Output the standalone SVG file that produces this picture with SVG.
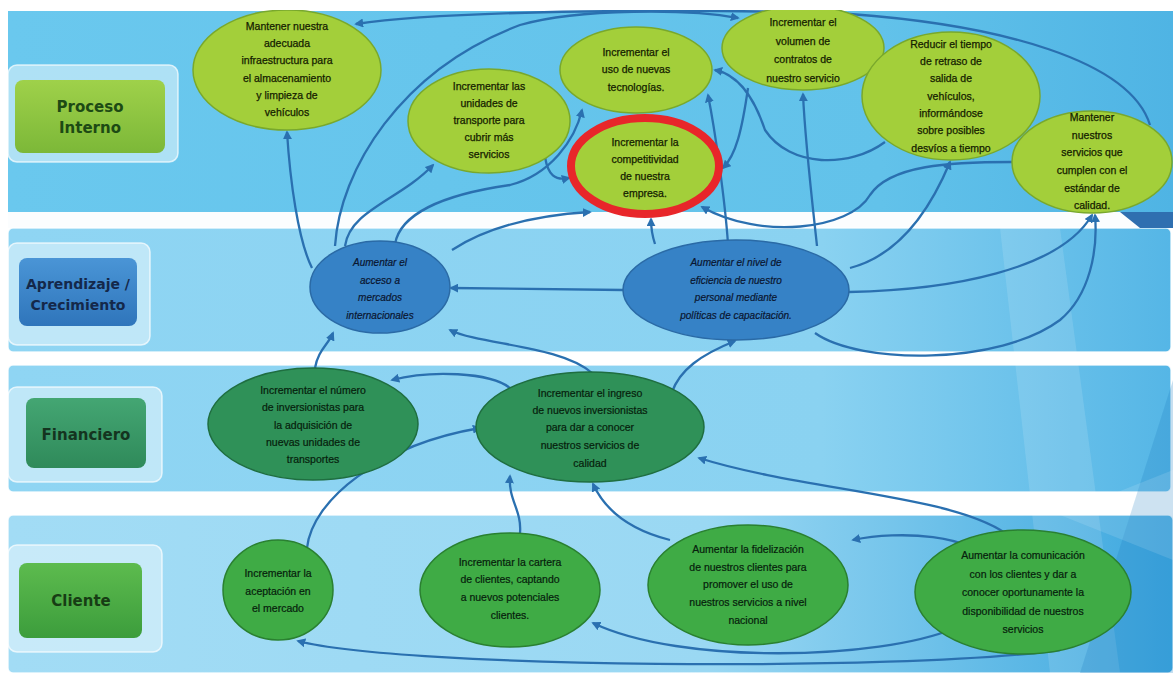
<svg xmlns="http://www.w3.org/2000/svg" width="1173" height="673" viewBox="0 0 1173 673">
<style>
.t{font-family:"Liberation Sans",Arial,sans-serif;font-size:10.5px;fill:#142000;stroke:#142000;stroke-width:0.25;text-anchor:middle}
.tb{font-family:"Liberation Sans",Arial,sans-serif;font-size:10px;fill:#0a1630;stroke:#0a1630;stroke-width:0.2;text-anchor:middle;font-style:italic}
.tg{font-family:"Liberation Sans",Arial,sans-serif;font-size:10.5px;fill:#06200c;stroke:#06200c;stroke-width:0.2;text-anchor:middle}
.lab{font-family:"DejaVu Sans",Verdana,sans-serif;font-size:15px;font-weight:bold;text-anchor:middle}
.yg{fill:#a3cf3a;stroke:#79a82c;stroke-width:1.5}
.bl{fill:#3682c6;stroke:#2a6aa6;stroke-width:1.5}
.dg{fill:#2f9158;stroke:#1f6e40;stroke-width:1.5}
.gr{fill:#3fab45;stroke:#2a8030;stroke-width:1.5}
.c{fill:none;stroke:#2a70b0;stroke-width:2.3;marker-end:url(#ah)}
.outer{fill:#e8f6fc;fill-opacity:0.55;stroke:#ffffff;stroke-opacity:0.7;stroke-width:1.5}
</style>
<defs>
<marker id="ah" viewBox="0 0 10 10" refX="8" refY="5" markerWidth="9" markerHeight="9" markerUnits="userSpaceOnUse" orient="auto">
<path d="M0,0 L10,5 L0,10 z" fill="#2a70b0"/>
</marker>
<linearGradient id="gTop" x1="0" y1="0" x2="1" y2="0">
<stop offset="0" stop-color="#6ac8ee"/><stop offset="0.75" stop-color="#62c2ea"/><stop offset="1" stop-color="#4fb4e4"/>
</linearGradient>
<linearGradient id="gBand" x1="0" y1="0" x2="1" y2="0">
<stop offset="0" stop-color="#8fd5f3"/><stop offset="0.7" stop-color="#8ad2f1"/><stop offset="1" stop-color="#55b6e6"/>
</linearGradient>
<linearGradient id="gCli" x1="0" y1="0" x2="1" y2="0">
<stop offset="0" stop-color="#a2dcf5"/><stop offset="0.6" stop-color="#9ad8f3"/><stop offset="1" stop-color="#3ea8df"/>
</linearGradient>
<linearGradient id="gPI" x1="0" y1="0" x2="0" y2="1">
<stop offset="0" stop-color="#9fd14a"/><stop offset="1" stop-color="#7cb838"/>
</linearGradient>
<linearGradient id="gAP" x1="0" y1="0" x2="0" y2="1">
<stop offset="0" stop-color="#4a95d6"/><stop offset="1" stop-color="#2f75bb"/>
</linearGradient>
<linearGradient id="gFI" x1="0" y1="0" x2="0" y2="1">
<stop offset="0" stop-color="#44a673"/><stop offset="1" stop-color="#2f8a5a"/>
</linearGradient>
<linearGradient id="gCL" x1="0" y1="0" x2="0" y2="1">
<stop offset="0" stop-color="#5dbb4e"/><stop offset="1" stop-color="#3c9d3c"/>
</linearGradient>
</defs>

<!-- background -->
<rect x="0" y="0" width="1173" height="673" fill="#ffffff"/>
<rect x="8" y="11" width="1165" height="201" fill="url(#gTop)"/>
<rect x="8" y="212" width="1165" height="16" fill="#fbfdfe"/>
<rect x="8" y="228" width="1163" height="124" rx="5" fill="url(#gBand)" stroke="#ffffff" stroke-opacity="0.8" stroke-width="1.5"/>
<rect x="8" y="365" width="1163" height="127" rx="5" fill="url(#gBand)" stroke="#ffffff" stroke-opacity="0.8" stroke-width="1.5"/>
<rect x="8" y="515" width="1165" height="158" rx="5" fill="url(#gCli)" stroke="#ffffff" stroke-opacity="0.8" stroke-width="1.5"/>
<polygon points="1000,228 1060,228 1120,673 1050,673" fill="#ffffff" fill-opacity="0.12"/>
<polygon points="1173,380 1173,673 1080,673" fill="#1e7fc4" fill-opacity="0.25"/>
<polygon points="1120,212 1173,212 1173,228 1140,228" fill="#2f6fb0"/>
<polygon points="1060,515 1173,470 1173,560" fill="#ffffff" fill-opacity="0.12"/>

<!-- left labels -->
<g id="lab-proceso">
<rect x="8" y="65" width="170" height="97" rx="9" class="outer"/>
<rect x="15" y="80" width="150" height="73" rx="8" fill="url(#gPI)"/>
<text x="90" y="112" class="lab" fill="#1d4a14">Proceso</text>
<text x="90" y="133" class="lab" fill="#1d4a14">Interno</text>
</g>
<g id="lab-aprendizaje">
<rect x="8" y="243" width="142" height="102" rx="9" class="outer"/>
<rect x="19" y="258" width="118" height="68" rx="8" fill="url(#gAP)"/>
<text x="78" y="289" class="lab" fill="#14284a" style="font-size:14px">Aprendizaje /</text>
<text x="78" y="310" class="lab" fill="#14284a" style="font-size:14px">Crecimiento</text>
</g>
<g id="lab-financiero">
<rect x="8" y="387" width="154" height="95" rx="9" class="outer"/>
<rect x="26" y="398" width="120" height="70" rx="8" fill="url(#gFI)"/>
<text x="86" y="440" class="lab" fill="#14341f">Financiero</text>
</g>
<g id="lab-cliente">
<rect x="8" y="545" width="154" height="107" rx="9" class="outer"/>
<rect x="19" y="563" width="123" height="75" rx="8" fill="url(#gCL)"/>
<text x="81" y="606" class="lab" fill="#173d14">Cliente</text>
</g>

<!-- connectors -->
<g id="connectors">
<path class="c" d="M312,268 C298,240 290,180 287,132"/>
<path class="c" d="M335,246 C340,170 400,70 520,25 C580,8 690,9 738,18"/>
<path class="c" d="M1150,125 C1130,60 1000,25 850,14 C700,8 450,10 356,24"/>
<path class="c" d="M345,246 C350,210 400,200 433,165"/>
<path class="c" d="M395,244 C400,215 440,195 510,185 C550,175 575,140 582,110"/>
<path class="c" d="M452,250 C490,225 540,215 590,212"/>
<path class="c" d="M545,157 C548,175 555,181 569,178"/>
<path class="c" d="M655,244 C652,235 651,228 651,219"/>
<path class="c" d="M728,244 C725,200 715,130 708,95"/>
<path class="c" d="M748,88 C742,130 736,155 723,168"/>
<path class="c" d="M885,142 C850,168 790,168 765,130 C755,100 740,75 715,70"/>
<path class="c" d="M817,246 C812,200 805,140 803,94"/>
<path class="c" d="M1012,162 C950,162 890,165 870,195 C850,230 760,240 702,207"/>
<path class="c" d="M850,268 C900,255 930,210 950,162"/>
<path class="c" d="M849,292 C950,290 1060,270 1092,215"/>
<path class="c" d="M815,333 C860,365 1000,365 1060,320 C1090,295 1098,250 1095,215"/>
<path class="c" d="M623,290 L451,288"/>
<path class="c" d="M315,368 C318,350 328,345 333,333"/>
<path class="c" d="M592,373 C560,345 480,345 450,330"/>
<path class="c" d="M510,388 C490,372 430,370 392,380"/>
<path class="c" d="M672,392 C680,370 700,355 735,341"/>
<path class="c" d="M307,548 C312,500 380,445 480,428"/>
<path class="c" d="M520,533 C522,510 508,500 510,476"/>
<path class="c" d="M670,540 C630,530 605,510 593,484"/>
<path class="c" d="M1005,533 C950,495 800,490 699,458"/>
<path class="c" d="M985,562 C975,535 900,530 853,540"/>
<path class="c" d="M955,628 C880,660 680,665 593,623"/>
<path class="c" d="M1060,650 C900,672 400,668 298,641"/>
</g>

<!-- Proceso Interno nodes -->
<g id="n1"><ellipse cx="287" cy="70" rx="94" ry="60" class="yg"/>
<text class="t" x="287" y="30">Mantener nuestra</text><text class="t" x="287" y="47">adecuada</text><text class="t" x="287" y="64">infraestructura para</text><text class="t" x="287" y="82">el almacenamiento</text><text class="t" x="287" y="99">y limpieza de</text><text class="t" x="287" y="116">vehículos</text></g>
<g id="n2"><ellipse cx="489" cy="121" rx="81" ry="52" class="yg"/>
<text class="t" x="489" y="90">Incrementar las</text><text class="t" x="489" y="107">unidades de</text><text class="t" x="489" y="124">transporte para</text><text class="t" x="489" y="141">cubrir más</text><text class="t" x="489" y="158">servicios</text></g>
<g id="n3"><ellipse cx="636" cy="70" rx="76" ry="43" class="yg"/>
<text class="t" x="636" y="56">Incrementar el</text><text class="t" x="636" y="73">uso de nuevas</text><text class="t" x="636" y="91">tecnologías.</text></g>
<g id="n4"><ellipse cx="645" cy="166" rx="74" ry="48" fill="#a3cf3a" stroke="#e8262a" stroke-width="8"/>
<text class="t" x="645" y="146">Incrementar la</text><text class="t" x="645" y="163">competitividad</text><text class="t" x="645" y="180">de nuestra</text><text class="t" x="645" y="197">empresa.</text></g>
<g id="n5"><ellipse cx="803" cy="48" rx="81" ry="42" class="yg"/>
<text class="t" x="803" y="26">Incrementar el</text><text class="t" x="803" y="45">volumen de</text><text class="t" x="803" y="63">contratos de</text><text class="t" x="803" y="82">nuestro servicio</text></g>
<g id="n6"><ellipse cx="951" cy="96" rx="89" ry="64" class="yg"/>
<text class="t" x="951" y="48">Reducir el tiempo</text><text class="t" x="951" y="65">de retraso de</text><text class="t" x="951" y="82">salida de</text><text class="t" x="951" y="100">vehículos,</text><text class="t" x="951" y="117">informándose</text><text class="t" x="951" y="134">sobre posibles</text><text class="t" x="951" y="152">desvíos a tiempo</text></g>
<g id="n7"><ellipse cx="1092" cy="162" rx="80" ry="51" class="yg"/>
<text class="t" x="1092" y="121">Mantener</text><text class="t" x="1092" y="139">nuestros</text><text class="t" x="1092" y="156">servicios que</text><text class="t" x="1092" y="174">cumplen con el</text><text class="t" x="1092" y="192">estándar de</text><text class="t" x="1092" y="209">calidad.</text></g>

<!-- Aprendizaje nodes -->
<g id="n8"><ellipse cx="380" cy="287" rx="70" ry="46" class="bl"/>
<text class="tb" x="380" y="266">Aumentar el</text><text class="tb" x="380" y="284">acceso a</text><text class="tb" x="380" y="301">mercados</text><text class="tb" x="380" y="319">internacionales</text></g>
<g id="n9"><ellipse cx="736" cy="290" rx="113" ry="50" class="bl"/>
<text class="tb" x="736" y="266">Aumentar el nivel de</text><text class="tb" x="736" y="284">eficiencia de nuestro</text><text class="tb" x="736" y="301">personal mediante</text><text class="tb" x="736" y="319">políticas de capacitación.</text></g>

<!-- Financiero nodes -->
<g id="n10"><ellipse cx="313" cy="424" rx="105" ry="56" class="dg"/>
<text class="tg" x="313" y="394">Incrementar el número</text><text class="tg" x="313" y="411">de inversionistas para</text><text class="tg" x="313" y="429">la adquisición de</text><text class="tg" x="313" y="446">nuevas unidades de</text><text class="tg" x="313" y="463">transportes</text></g>
<g id="n11"><ellipse cx="590" cy="427" rx="114" ry="55" class="dg"/>
<text class="tg" x="590" y="397">Incrementar el ingreso</text><text class="tg" x="590" y="414">de nuevos inversionistas</text><text class="tg" x="590" y="431">para dar a conocer</text><text class="tg" x="590" y="449">nuestros servicios de</text><text class="tg" x="590" y="467">calidad</text></g>

<!-- Cliente nodes -->
<g id="n12"><ellipse cx="278" cy="590" rx="55" ry="50" class="gr"/>
<text class="tg" x="278" y="577">Incrementar la</text><text class="tg" x="278" y="595">aceptación en</text><text class="tg" x="278" y="612">el mercado</text></g>
<g id="n13"><ellipse cx="510" cy="590" rx="90" ry="57" class="gr"/>
<text class="tg" x="510" y="566">Incrementar la cartera</text><text class="tg" x="510" y="583">de clientes, captando</text><text class="tg" x="510" y="601">a nuevos potenciales</text><text class="tg" x="510" y="619">clientes.</text></g>
<g id="n14"><ellipse cx="748" cy="585" rx="100" ry="60" class="gr"/>
<text class="tg" x="748" y="553">Aumentar la fidelización</text><text class="tg" x="748" y="571">de nuestros clientes para</text><text class="tg" x="748" y="588">promover el uso de</text><text class="tg" x="748" y="606">nuestros servicios a nivel</text><text class="tg" x="748" y="624">nacional</text></g>
<g id="n15"><ellipse cx="1023" cy="592" rx="108" ry="62" class="gr"/>
<text class="tg" x="1023" y="559">Aumentar la comunicación</text><text class="tg" x="1023" y="578">con los clientes y dar a</text><text class="tg" x="1023" y="596">conocer oportunamente la</text><text class="tg" x="1023" y="615">disponibilidad de nuestros</text><text class="tg" x="1023" y="633">servicios</text></g>

<!-- page margins -->
<rect x="0" y="0" width="1173" height="10" fill="#ffffff"/>
<rect x="0" y="0" width="8" height="673" fill="#ffffff"/>
</svg>
